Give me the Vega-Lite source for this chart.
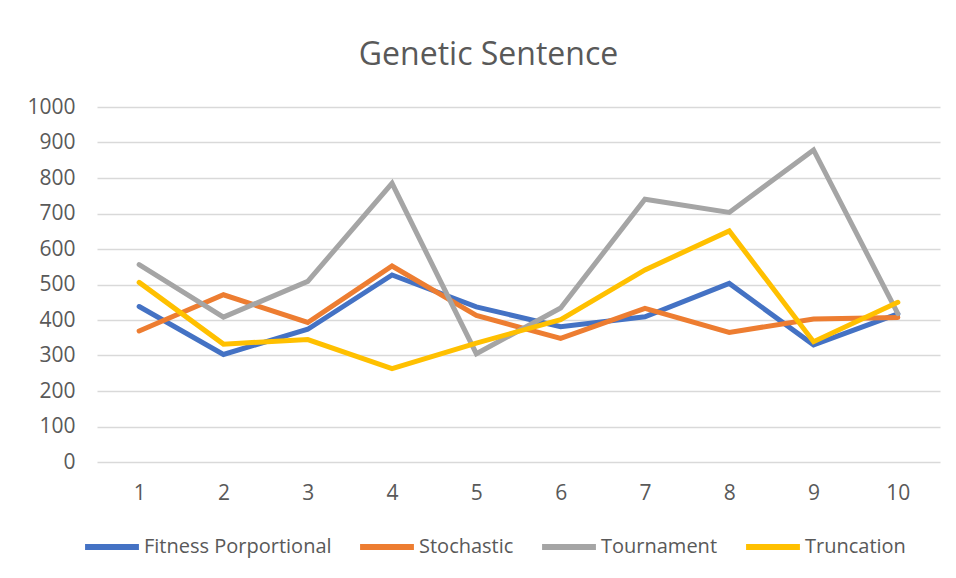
{
  "$schema": "https://vega.github.io/schema/vega-lite/v6.json",
  "width": 843,
  "height": 355,
  "autosize": {"type": "none"},
  "padding": {"left": 97, "top": 107, "right": 16, "bottom": 116},
  "background": "white",
  "config": {
    "view": {"stroke": null},
    "font": "Open Sans"
  },
  "title": {
    "text": "Genetic Sentence",
    "fontSize": 32,
    "font": "Open Sans",
    "fontWeight": "normal",
    "color": "#595959",
    "anchor": "middle",
    "dx": -30,
    "offset": 24
  },
  "data": {
    "values": [
      {"gen": 1, "method": "Fitness Porportional", "value": 438},
      {"gen": 2, "method": "Fitness Porportional", "value": 303},
      {"gen": 3, "method": "Fitness Porportional", "value": 374},
      {"gen": 4, "method": "Fitness Porportional", "value": 527},
      {"gen": 5, "method": "Fitness Porportional", "value": 437},
      {"gen": 6, "method": "Fitness Porportional", "value": 381},
      {"gen": 7, "method": "Fitness Porportional", "value": 409},
      {"gen": 8, "method": "Fitness Porportional", "value": 503},
      {"gen": 9, "method": "Fitness Porportional", "value": 330},
      {"gen": 10, "method": "Fitness Porportional", "value": 417},
      {"gen": 1, "method": "Stochastic", "value": 369},
      {"gen": 2, "method": "Stochastic", "value": 471},
      {"gen": 3, "method": "Stochastic", "value": 393},
      {"gen": 4, "method": "Stochastic", "value": 552},
      {"gen": 5, "method": "Stochastic", "value": 413},
      {"gen": 6, "method": "Stochastic", "value": 348},
      {"gen": 7, "method": "Stochastic", "value": 433},
      {"gen": 8, "method": "Stochastic", "value": 365},
      {"gen": 9, "method": "Stochastic", "value": 403},
      {"gen": 10, "method": "Stochastic", "value": 407},
      {"gen": 1, "method": "Tournament", "value": 556},
      {"gen": 2, "method": "Tournament", "value": 408},
      {"gen": 3, "method": "Tournament", "value": 509},
      {"gen": 4, "method": "Tournament", "value": 785},
      {"gen": 5, "method": "Tournament", "value": 305},
      {"gen": 6, "method": "Tournament", "value": 434},
      {"gen": 7, "method": "Tournament", "value": 740},
      {"gen": 8, "method": "Tournament", "value": 703},
      {"gen": 9, "method": "Tournament", "value": 879},
      {"gen": 10, "method": "Tournament", "value": 418},
      {"gen": 1, "method": "Truncation", "value": 506},
      {"gen": 2, "method": "Truncation", "value": 332},
      {"gen": 3, "method": "Truncation", "value": 345},
      {"gen": 4, "method": "Truncation", "value": 263},
      {"gen": 5, "method": "Truncation", "value": 335},
      {"gen": 6, "method": "Truncation", "value": 401},
      {"gen": 7, "method": "Truncation", "value": 541},
      {"gen": 8, "method": "Truncation", "value": 651},
      {"gen": 9, "method": "Truncation", "value": 339},
      {"gen": 10, "method": "Truncation", "value": 450}
    ]
  },
  "mark": {"type": "line", "strokeWidth": 5, "strokeCap": "round", "strokeJoin": "miter"},
  "encoding": {
    "x": {
      "field": "gen",
      "type": "ordinal",
      "scale": {"type": "point", "padding": 0.5},
      "axis": {
        "title": null,
        "labelAngle": 0,
        "labelFontSize": 21,
        "labelColor": "#595959",
        "labelPadding": 20,
        "ticks": false,
        "domain": false,
        "grid": false
      }
    },
    "y": {
      "field": "value",
      "type": "quantitative",
      "scale": {"domain": [0, 1000], "nice": false},
      "axis": {
        "title": null,
        "format": "d",
        "values": [0, 100, 200, 300, 400, 500, 600, 700, 800, 900, 1000],
        "labelFontSize": 21,
        "labelColor": "#595959",
        "labelPadding": 22,
        "ticks": false,
        "domain": false,
        "grid": true,
        "gridColor": "#d9d9d9",
        "gridWidth": 1.5
      }
    },
    "color": {
      "field": "method",
      "type": "nominal",
      "scale": {
        "domain": ["Fitness Porportional", "Stochastic", "Tournament", "Truncation"],
        "range": ["#4472C4", "#ED7D31", "#A5A5A5", "#FFC000"]
      },
      "legend": {
        "title": null,
        "orient": "none",
        "legendX": -15,
        "legendY": 410,
        "direction": "horizontal",
        "symbolType": "stroke",
        "symbolSize": 2900,
        "symbolStrokeWidth": 6,
        "labelFontSize": 20,
        "labelLimit": 400,
        "labelColor": "#595959",
        "labelOffset": 2,
        "columnPadding": 16
      }
    }
  }
}
